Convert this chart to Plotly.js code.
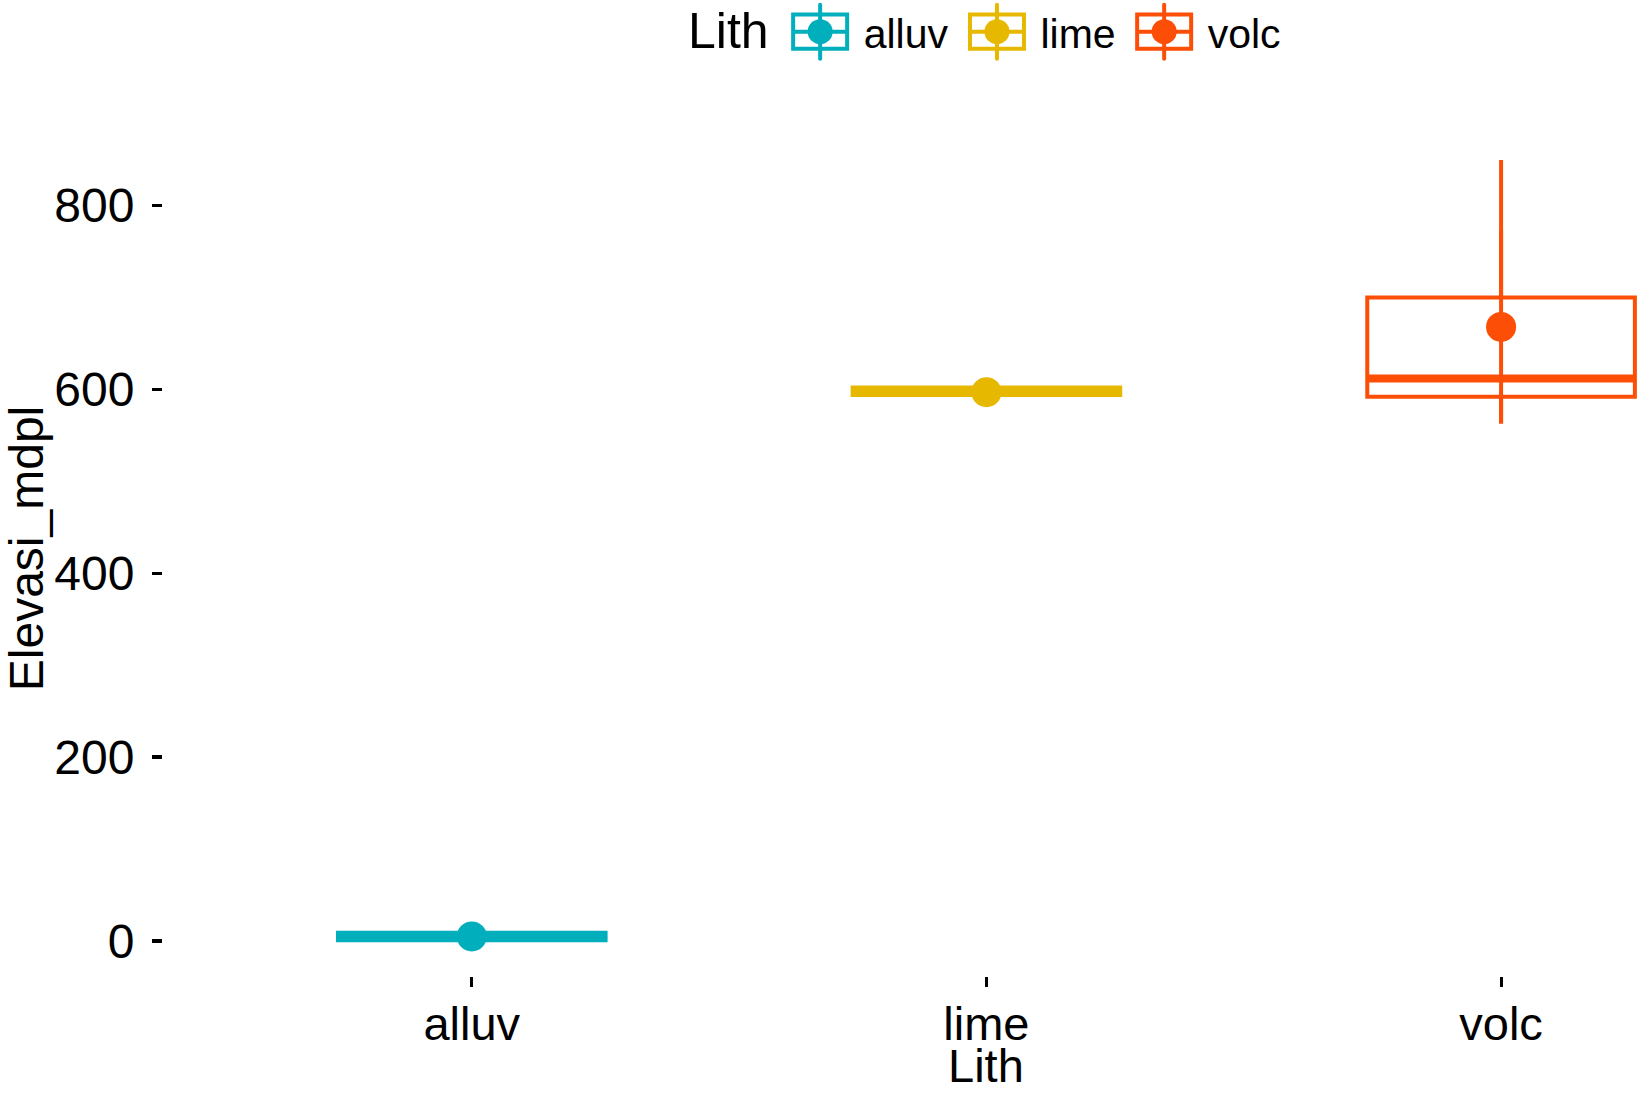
<!DOCTYPE html>
<html>
<head>
<meta charset="utf-8">
<script src="https://cdn.plot.ly/plotly-3.0.1.min.js"></script>
<style>html,body{margin:0;padding:0;background:#fff;}#chart{width:1639px;height:1094px;}</style>
</head>
<body>
<div id="chart"></div>
<script>
// Data
const lith = ['alluv', 'lime', 'volc'];
const q1Vals = [1, 594, 592];
const medianVals = [5, 598, 612];
const q3Vals = [9, 602, 700];
const lowerFence = [1, 594, 563];
const upperFence = [9, 602, 849.5];
const meanVals = [5, 597, 668];
const seVals = [0, 0, 105];
const palette = ['#00AFBB', '#E7B800', '#FC4E07'];

const FONT = 'Liberation Sans, Arial, Helvetica, sans-serif';
const traces = [];
lith.forEach((g, i) => {
  traces.push({
    type: 'box', name: g, legendgroup: g, x: [g],
    q1: [q1Vals[i]], median: [medianVals[i]], q3: [q3Vals[i]],
    lowerfence: [lowerFence[i]], upperfence: [upperFence[i]],
    width: 0.52, whiskerwidth: 0, boxpoints: false,
    fillcolor: 'rgba(255,255,255,1)',
    line: { color: palette[i], width: 4 },
    hoverinfo: 'skip'
  });
  traces.push({
    type: 'box', name: g, legendgroup: g, showlegend: false, x: [g],
    q1: [medianVals[i]], median: [medianVals[i]], q3: [medianVals[i]],
    lowerfence: [medianVals[i]], upperfence: [medianVals[i]],
    width: 0.52, whiskerwidth: 0, boxpoints: false,
    fillcolor: 'rgba(0,0,0,0)',
    line: { color: palette[i], width: 8 },
    hoverinfo: 'skip'
  });
  traces.push({
    type: 'scatter', mode: 'markers', name: g, legendgroup: g, showlegend: false,
    x: [g], y: [meanVals[i]],
    marker: { color: palette[i], size: 30 },
    error_y: { type: 'data', array: [seVals[i]], visible: true, color: palette[i], thickness: 4, width: 0 },
    hoverinfo: 'skip'
  });
});

const layout = {
  width: 1639, height: 1094,
  margin: { l: 163, r: 0, t: 121, b: 118 },
  paper_bgcolor: '#fff', plot_bgcolor: '#fff',
  boxmode: 'overlay',
  showlegend: true,
  font: { family: FONT, color: '#000' },
  xaxis: {
    type: 'category', categoryorder: 'array', categoryarray: lith,
    range: [-0.6, 2.268],
    showgrid: false, zeroline: false, showline: false,
    ticks: 'outside', ticklen: 10, tickwidth: 3, tickcolor: '#000',
    ticklabelstandoff: -3,
    tickfont: { size: 47, family: FONT, color: '#000' }
  },
  yaxis: {
    range: [-38, 892],
    tickvals: [0, 200, 400, 600, 800],
    showgrid: false, zeroline: false, showline: false,
    ticks: 'outside', ticklen: 10, tickwidth: 3.5, tickcolor: '#000',
    ticklabelstandoff: 8,
    tickfont: { size: 48, family: FONT, color: '#000' },
    title: { text: 'Elevasi_mdpl', font: { size: 48, family: FONT, color: '#000' }, standoff: 1 }
  },
  annotations: [{
    text: 'Lith', xref: 'x', x: 1, yref: 'paper', y: -(1094 - 976) / 855,
    xanchor: 'center', yanchor: 'bottom', showarrow: false,
    font: { size: 47, family: FONT, color: '#000' }
  }],
  legend: {
    orientation: 'h',
    xref: 'paper', x: 0.5576, xanchor: 'center',
    yref: 'container', y: 1 - 36 / 1094, yanchor: 'middle',
    font: { size: 41, family: FONT, color: '#000' },
    title: { text: 'Lith', side: 'left', font: { size: 50, family: FONT, color: '#000' } },
    itemwidth: 77,
    bgcolor: 'rgba(0,0,0,0)'
  }
};

const SVGNS = 'http://www.w3.org/2000/svg';
Plotly.newPlot('chart', traces, layout, { displayModeBar: false, staticPlot: true }).then(gd => {
  // enlarge legend box symbols and add median / mean glyphs like the reference key
  gd.querySelectorAll('.legend path.legendbox').forEach(p => {
    const t = p.getAttribute('transform') || '';
    p.setAttribute('transform', t + ' scale(4.5,2.85)');
    p.style.vectorEffect = 'non-scaling-stroke';
    p.style.strokeWidth = '4px';
    const col = p.style.stroke;
    const g = p.parentNode;
    const add = (tag, attrs) => {
      const el = document.createElementNS(SVGNS, tag);
      Object.keys(attrs).forEach(k => el.setAttribute(k, attrs[k]));
      el.setAttribute('transform', t);
      g.appendChild(el);
    };
    add('path', { d: 'M-27,0H27', stroke: col, 'stroke-width': 4, fill: 'none' });
    add('path', { d: 'M0,-27V27', stroke: col, 'stroke-width': 4, fill: 'none', 'stroke-linecap': 'round' });
    add('circle', { cx: 0, cy: 0, r: 12.5, fill: col });
  });
  const tt = gd.querySelector('.legend .legendtitletext');
  if (tt) tt.setAttribute('y', (parseFloat(tt.getAttribute('y') || 0) - 16));
});
</script>
</body>
</html>
